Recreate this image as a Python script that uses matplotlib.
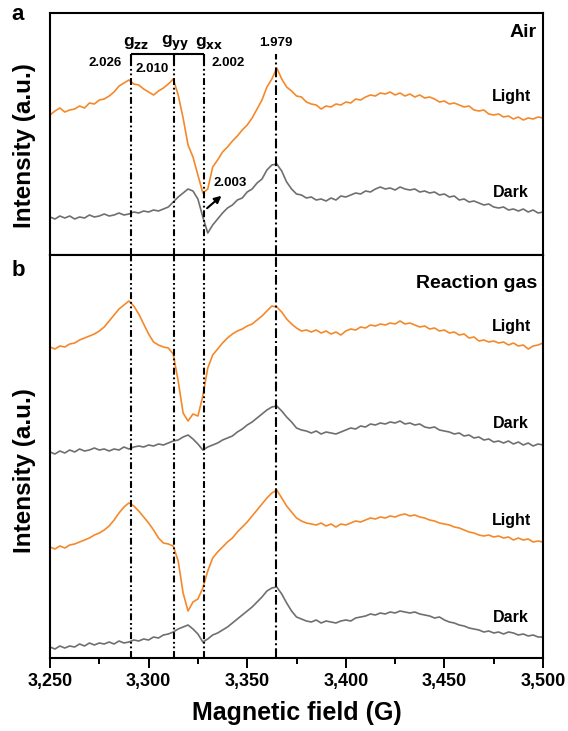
import numpy as np
import matplotlib
matplotlib.use("Agg")
import matplotlib.pyplot as plt
from matplotlib.ticker import MultipleLocator, FuncFormatter

plt.rcParams['font.family'] = ['Liberation Sans', 'DejaVu Sans']
plt.rcParams['font.weight'] = 'bold'
plt.rcParams['lines.scale_dashes'] = False

orange = '#F5892A'
gray = '#6F6F6F'

# field sampled every 2.5 G, 3250 .. 3500
field = np.arange(3250, 3500.1, 2.5)

# --- panel a (Air) ---
air_light = [140, 144, 147, 143, 145, 146, 149, 147, 152, 151, 155, 156, 159, 163, 169, 172, 175, 171,
             170, 166, 163, 160, 164, 167, 171, 176, 160, 137, 110, 98, 80, 62, 66, 88, 95, 103, 108,
             114, 119, 125, 130, 137, 146, 155, 168, 176, 187, 176, 168, 164, 159, 158, 153, 151, 150,
             146, 149, 148, 151, 150, 153, 152, 156, 155, 158, 160, 159, 162, 161, 163, 160, 162, 159,
             161, 158, 160, 157, 158, 156, 153, 154, 151, 152, 150, 148, 149, 145, 144, 145, 141, 140,
             141, 138, 139, 136, 138, 135, 137, 136, 138, 137]
air_dark = [38, 36, 39, 37, 39, 36, 38, 37, 40, 38, 39, 41, 39, 40, 42, 40, 41, 43, 42, 44, 43, 45, 44,
            46, 48, 53, 58, 62, 66, 64, 56, 38, 22, 30, 36, 42, 47, 50, 55, 57, 63, 66, 72, 76, 85, 90,
            91, 84, 73, 66, 61, 60, 57, 58, 55, 56, 54, 57, 55, 59, 58, 60, 62, 61, 64, 63, 66, 68, 66,
            67, 65, 68, 66, 65, 66, 63, 64, 62, 63, 60, 61, 58, 59, 55, 56, 53, 54, 52, 50, 51, 48, 47,
            48, 45, 46, 44, 46, 43, 45, 42, 43]

# --- panel b (Reaction gas), upper pair ---
rg1_light = [311, 309, 312, 311, 314, 315, 318, 320, 322, 324, 327, 331, 337, 343, 349, 353, 357, 352,
             344, 334, 324, 316, 313, 311, 310, 304, 277, 245, 237, 244, 242, 262, 290, 303, 309, 315,
             320, 324, 327, 329, 332, 334, 338, 342, 347, 352, 351, 346, 339, 334, 330, 327, 328, 326,
             328, 325, 327, 324, 326, 323, 327, 329, 328, 331, 330, 333, 332, 334, 333, 335, 334, 337,
             334, 335, 333, 331, 332, 329, 330, 327, 328, 325, 326, 323, 324, 320, 321, 317, 318, 316,
             317, 315, 316, 313, 315, 312, 313, 309, 312, 313, 315]
rg1_dark = [206, 204, 207, 205, 208, 206, 209, 207, 208, 210, 208, 209, 207, 209, 208, 211, 209, 211,
            212, 211, 213, 212, 214, 213, 215, 217, 218, 221, 223, 219, 214, 208, 211, 213, 215, 218,
            220, 222, 226, 229, 233, 236, 240, 244, 248, 251, 252, 247, 241, 236, 230, 228, 227, 225,
            227, 224, 226, 225, 224, 226, 228, 230, 229, 232, 231, 234, 233, 235, 234, 236, 235, 237,
            234, 235, 233, 234, 231, 230, 231, 228, 227, 226, 224, 225, 222, 223, 220, 221, 218, 219,
            216, 217, 215, 217, 214, 216, 213, 215, 212, 214, 213]

# --- panel b, lower pair ---
rg2_light = [111, 109, 112, 110, 113, 114, 116, 118, 120, 123, 125, 128, 132, 138, 145, 151, 155, 152,
             147, 141, 135, 128, 120, 115, 114, 112, 97, 65, 47, 56, 59, 70, 87, 100, 106, 111, 116,
             120, 126, 131, 136, 142, 148, 154, 160, 165, 168, 160, 152, 146, 140, 137, 135, 134, 133,
             135, 132, 134, 131, 134, 133, 135, 137, 136, 138, 140, 139, 141, 140, 142, 141, 143, 144,
             142, 143, 141, 140, 138, 137, 135, 134, 133, 131, 130, 128, 126, 125, 123, 122, 123, 121,
             122, 120, 121, 118, 120, 118, 119, 116, 117, 116]
rg2_dark = [11, 9, 12, 10, 12, 11, 14, 12, 15, 13, 15, 14, 16, 14, 17, 15, 16, 18, 17, 19, 18, 21, 20,
            23, 24, 26, 29, 31, 33, 29, 24, 16, 19, 23, 25, 28, 31, 35, 39, 43, 47, 51, 56, 61, 67, 70,
            71, 64, 55, 47, 41, 39, 37, 36, 38, 35, 37, 36, 35, 37, 38, 37, 40, 41, 42, 44, 43, 45, 44,
            46, 45, 47, 46, 45, 46, 44, 43, 42, 40, 41, 38, 36, 35, 33, 32, 30, 29, 28, 26, 27, 25, 26,
            24, 26, 25, 23, 24, 22, 23, 21, 21]

# g-value positions (G)
g_fields = [3291, 3313, 3328]
g_names = ['zz', 'yy', 'xx']
peak_1979 = 3364.5

fig = plt.figure(figsize=(5.68, 7.31), dpi=100)
ax_a = fig.add_axes([50 / 568, 1 - 255 / 731, 493 / 568, 242 / 731])
ax_b = fig.add_axes([50 / 568, 1 - 658 / 731, 493 / 568, 403 / 731])

ax_a.plot(field, air_light, color=orange, lw=1.2)
ax_a.plot(field, air_dark, color=gray, lw=1.2)
ax_b.plot(field, rg1_light, color=orange, lw=1.2)
ax_b.plot(field, rg1_dark, color=gray, lw=1.2)
ax_b.plot(field, rg2_light, color=orange, lw=1.2)
ax_b.plot(field, rg2_dark, color=gray, lw=1.2)

ax_a.set_ylim(0, 242)
ax_b.set_ylim(0, 403)

ddot = (0, (5, 2, 1.3, 2, 1.3, 2))
dash_dot = (0, (7, 2.2, 1.4, 2.2))
top_frac = 201 / 242  # bracket level in panel a
for gx in g_fields:
    ax_a.axvline(gx, ymax=top_frac, color='k', lw=1.5, ls=ddot)
    ax_b.axvline(gx, color='k', lw=1.5, ls=ddot)
ax_a.axvline(peak_1979, ymax=top_frac, color='k', lw=1.5, ls=dash_dot)
ax_b.axvline(peak_1979, color='k', lw=1.5, ls=dash_dot)

# bracket above the g lines
ax_a.plot([g_fields[0], g_fields[2]], [201, 201], color='k', lw=1.5, solid_capstyle='butt')
for gx in g_fields:
    ax_a.plot([gx, gx], [201, 194], color='k', lw=1.5, solid_capstyle='butt')
for gx, nm, dx in zip(g_fields, g_names, [2.5, 0.5, 2.5]):
    ax_a.text(gx + dx, 212, r'g$_{\mathbf{%s}}$' % nm, ha='center', va='center', fontsize=12.5,
              fontweight='bold')

ax_a.text(3278, 192, '2.026', ha='center', va='center', fontsize=9.5)
ax_a.text(3301.7, 186, '2.010', ha='center', va='center', fontsize=9.5)
ax_a.text(3340.3, 192, '2.002', ha='center', va='center', fontsize=9.5)
ax_a.text(3364.6, 212, '1.979', ha='center', va='center', fontsize=9.5)
ax_a.text(3341.3, 72, '2.003', ha='center', va='center', fontsize=9.5)
ax_a.annotate('', xy=(3338, 61), xytext=(3328.6, 45),
              arrowprops=dict(arrowstyle='-|>', color='k', lw=1.5, mutation_scale=10))

ax_a.text(3497, 222, 'Air', ha='right', va='center', fontsize=14)
ax_a.text(3483.8, 158, 'Light', ha='center', va='center', fontsize=11.5)
ax_a.text(3483.8, 62, 'Dark', ha='center', va='center', fontsize=11.5)

ax_b.text(3497, 375, 'Reaction gas', ha='right', va='center', fontsize=14)
ax_b.text(3483.8, 332, 'Light', ha='center', va='center', fontsize=11.5)
ax_b.text(3483.8, 234, 'Dark', ha='center', va='center', fontsize=11.5)
ax_b.text(3483.8, 138, 'Light', ha='center', va='center', fontsize=11.5)
ax_b.text(3483.8, 41, 'Dark', ha='center', va='center', fontsize=11.5)

for ax in (ax_a, ax_b):
    ax.set_xlim(3250, 3500)
    ax.xaxis.set_major_locator(MultipleLocator(50))
    ax.xaxis.set_minor_locator(MultipleLocator(25))
    ax.set_yticks([])
    ax.tick_params(axis='x', which='major', direction='out', length=7, width=1.4, pad=4,
                   labelsize=13)
    ax.tick_params(axis='x', which='minor', direction='out', length=4, width=1.4)
    for sp in ax.spines.values():
        sp.set_linewidth(1.5)
ax_a.tick_params(axis='x', labelbottom=False)
ax_b.xaxis.set_major_formatter(FuncFormatter(lambda v, p: '{:,.0f}'.format(v)))

fig.text(25 / 568, 1 - 146 / 731, 'Intensity (a.u.)', rotation=90, ha='center', va='center',
         fontsize=17.5)
fig.text(25 / 568, 1 - 471 / 731, 'Intensity (a.u.)', rotation=90, ha='center', va='center',
         fontsize=17.5)
fig.text(297 / 568, 1 - 713 / 731, 'Magnetic field (G)', ha='center', va='center', fontsize=18)
fig.text(18 / 568, 1 - 15 / 731, 'a', ha='center', va='center', fontsize=16)
fig.text(18 / 568, 1 - 270 / 731, 'b', ha='center', va='center', fontsize=16)

fig.savefig('out.png', dpi=100)
